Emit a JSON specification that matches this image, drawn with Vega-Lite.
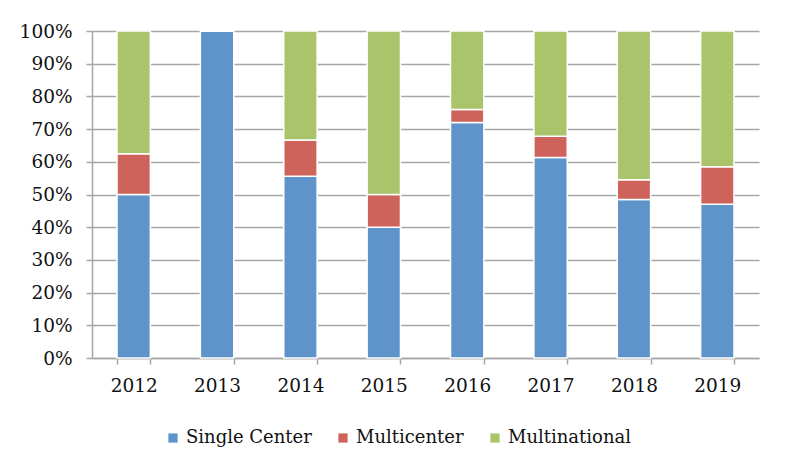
{
  "$schema": "https://vega.github.io/schema/vega-lite/v6.json",
  "width": 667,
  "height": 327,
  "autosize": {"type": "none"},
  "padding": {"left": 92, "top": 31, "right": 31, "bottom": 118},
  "background": "white",
  "data": {
    "values": [
      {"year": "2012", "type": "Single Center", "k": 1, "pct": 50},
      {"year": "2012", "type": "Multicenter", "k": 2, "pct": 12.5},
      {"year": "2012", "type": "Multinational", "k": 3, "pct": 37.5},
      {"year": "2013", "type": "Single Center", "k": 1, "pct": 100},
      {"year": "2013", "type": "Multicenter", "k": 2, "pct": 0},
      {"year": "2013", "type": "Multinational", "k": 3, "pct": 0},
      {"year": "2014", "type": "Single Center", "k": 1, "pct": 55.6},
      {"year": "2014", "type": "Multicenter", "k": 2, "pct": 11.1},
      {"year": "2014", "type": "Multinational", "k": 3, "pct": 33.3},
      {"year": "2015", "type": "Single Center", "k": 1, "pct": 40},
      {"year": "2015", "type": "Multicenter", "k": 2, "pct": 10},
      {"year": "2015", "type": "Multinational", "k": 3, "pct": 50},
      {"year": "2016", "type": "Single Center", "k": 1, "pct": 72},
      {"year": "2016", "type": "Multicenter", "k": 2, "pct": 4},
      {"year": "2016", "type": "Multinational", "k": 3, "pct": 24},
      {"year": "2017", "type": "Single Center", "k": 1, "pct": 61.3},
      {"year": "2017", "type": "Multicenter", "k": 2, "pct": 6.5},
      {"year": "2017", "type": "Multinational", "k": 3, "pct": 32.2},
      {"year": "2018", "type": "Single Center", "k": 1, "pct": 48.5},
      {"year": "2018", "type": "Multicenter", "k": 2, "pct": 6},
      {"year": "2018", "type": "Multinational", "k": 3, "pct": 45.5},
      {"year": "2019", "type": "Single Center", "k": 1, "pct": 47},
      {"year": "2019", "type": "Multicenter", "k": 2, "pct": 11.5},
      {"year": "2019", "type": "Multinational", "k": 3, "pct": 41.5}
    ]
  },
  "mark": {"type": "bar", "stroke": "white", "strokeWidth": 1.5},
  "encoding": {
    "x": {
      "field": "year",
      "type": "ordinal",
      "scale": {"paddingInner": 0.6, "paddingOuter": 0.3},
      "axis": {
        "title": null,
        "labelAngle": 0,
        "tickBand": "extent",
        "tickSize": 6,
        "tickColor": "#a6a6a6",
        "domainColor": "#a6a6a6",
        "domainWidth": 1.5,
        "tickWidth": 1.5,
        "labelPadding": 12,
        "labelFont": "DejaVu Serif",
        "labelFontSize": 18.5,
        "labelColor": "#111111",
        "grid": false
      }
    },
    "y": {
      "field": "pct",
      "type": "quantitative",
      "stack": "normalize",
      "scale": {"domain": [0, 1]},
      "axis": {
        "title": null,
        "values": [0, 0.1, 0.2, 0.3, 0.4, 0.5, 0.6, 0.7, 0.8, 0.9, 1],
        "format": ".0%",
        "grid": true,
        "gridColor": "#a6a6a6",
        "gridWidth": 1.5,
        "tickSize": 6,
        "tickColor": "#a6a6a6",
        "tickWidth": 1.5,
        "domainColor": "#a6a6a6",
        "domainWidth": 1.5,
        "labelPadding": 14,
        "labelFont": "DejaVu Serif",
        "labelFontSize": 18.5,
        "labelColor": "#111111"
      }
    },
    "color": {
      "field": "type",
      "type": "nominal",
      "scale": {
        "domain": ["Single Center", "Multicenter", "Multinational"],
        "range": ["#5e94ca", "#cd635a", "#a9c46b"]
      },
      "legend": {
        "title": null,
        "orient": "none",
        "direction": "horizontal",
        "legendX": 72,
        "legendY": 398,
        "symbolType": "square",
        "symbolSize": 85,
        "symbolStrokeWidth": 0,
        "labelFont": "DejaVu Serif",
        "labelFontSize": 18,
        "labelColor": "#111111",
        "labelOffset": 4,
        "columnPadding": 22
      }
    },
    "order": {"field": "k", "type": "quantitative"}
  },
  "config": {"view": {"stroke": null}}
}
